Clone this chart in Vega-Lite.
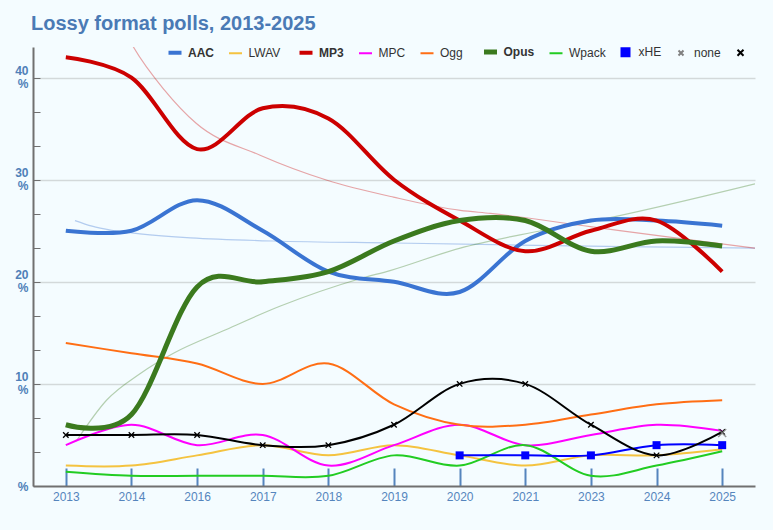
{
  "$schema": "https://vega.github.io/schema/vega-lite/v6.json",
  "width": 722,
  "height": 439,
  "autosize": "none",
  "padding": {"left": 33, "top": 47, "right": 18, "bottom": 44},
  "background": "#f4fcff",
  "title": {
    "text": "Lossy format polls, 2013-2025",
    "anchor": "start",
    "frame": "group",
    "dx": -2,
    "offset": -7,
    "baseline": "alphabetic",
    "fontSize": 20,
    "fontWeight": "bold",
    "color": "#4a7ab5",
    "font": "Liberation Sans"
  },
  "datasets": {
    "polls": [
      {"year": "2013", "series": "AAC", "value": 25},
      {"year": "2014", "series": "AAC", "value": 25},
      {"year": "2016", "series": "AAC", "value": 28},
      {"year": "2017", "series": "AAC", "value": 25},
      {"year": "2018", "series": "AAC", "value": 21},
      {"year": "2019", "series": "AAC", "value": 20},
      {"year": "2020", "series": "AAC", "value": 19},
      {"year": "2021", "series": "AAC", "value": 24},
      {"year": "2023", "series": "AAC", "value": 26},
      {"year": "2024", "series": "AAC", "value": 26},
      {"year": "2025", "series": "AAC", "value": 25.5},
      {"year": "2013", "series": "LWAV", "value": 2},
      {"year": "2014", "series": "LWAV", "value": 2},
      {"year": "2016", "series": "LWAV", "value": 3},
      {"year": "2017", "series": "LWAV", "value": 4},
      {"year": "2018", "series": "LWAV", "value": 3},
      {"year": "2019", "series": "LWAV", "value": 4},
      {"year": "2020", "series": "LWAV", "value": 3},
      {"year": "2021", "series": "LWAV", "value": 2},
      {"year": "2023", "series": "LWAV", "value": 3},
      {"year": "2024", "series": "LWAV", "value": 3},
      {"year": "2025", "series": "LWAV", "value": 3.6},
      {"year": "2013", "series": "MP3", "value": 42},
      {"year": "2014", "series": "MP3", "value": 40},
      {"year": "2016", "series": "MP3", "value": 33},
      {"year": "2017", "series": "MP3", "value": 37},
      {"year": "2018", "series": "MP3", "value": 36},
      {"year": "2019", "series": "MP3", "value": 30},
      {"year": "2020", "series": "MP3", "value": 26},
      {"year": "2021", "series": "MP3", "value": 23},
      {"year": "2023", "series": "MP3", "value": 25},
      {"year": "2024", "series": "MP3", "value": 26},
      {"year": "2025", "series": "MP3", "value": 21},
      {"year": "2013", "series": "MPC", "value": 4},
      {"year": "2014", "series": "MPC", "value": 6},
      {"year": "2016", "series": "MPC", "value": 4},
      {"year": "2017", "series": "MPC", "value": 5},
      {"year": "2018", "series": "MPC", "value": 2},
      {"year": "2019", "series": "MPC", "value": 4},
      {"year": "2020", "series": "MPC", "value": 6},
      {"year": "2021", "series": "MPC", "value": 4},
      {"year": "2023", "series": "MPC", "value": 5},
      {"year": "2024", "series": "MPC", "value": 6},
      {"year": "2025", "series": "MPC", "value": 5.4},
      {"year": "2013", "series": "Ogg", "value": 14},
      {"year": "2014", "series": "Ogg", "value": 13},
      {"year": "2016", "series": "Ogg", "value": 12},
      {"year": "2017", "series": "Ogg", "value": 10},
      {"year": "2018", "series": "Ogg", "value": 12},
      {"year": "2019", "series": "Ogg", "value": 8},
      {"year": "2020", "series": "Ogg", "value": 6},
      {"year": "2021", "series": "Ogg", "value": 6},
      {"year": "2023", "series": "Ogg", "value": 7},
      {"year": "2024", "series": "Ogg", "value": 8},
      {"year": "2025", "series": "Ogg", "value": 8.4},
      {"year": "2013", "series": "Opus", "value": 6},
      {"year": "2014", "series": "Opus", "value": 7},
      {"year": "2016", "series": "Opus", "value": 19.5},
      {"year": "2017", "series": "Opus", "value": 20},
      {"year": "2018", "series": "Opus", "value": 21},
      {"year": "2019", "series": "Opus", "value": 24},
      {"year": "2020", "series": "Opus", "value": 26},
      {"year": "2021", "series": "Opus", "value": 26},
      {"year": "2023", "series": "Opus", "value": 23},
      {"year": "2024", "series": "Opus", "value": 24},
      {"year": "2025", "series": "Opus", "value": 23.5},
      {"year": "2013", "series": "Wpack", "value": 1.4},
      {"year": "2014", "series": "Wpack", "value": 1},
      {"year": "2016", "series": "Wpack", "value": 1},
      {"year": "2017", "series": "Wpack", "value": 1},
      {"year": "2018", "series": "Wpack", "value": 1},
      {"year": "2019", "series": "Wpack", "value": 3},
      {"year": "2020", "series": "Wpack", "value": 2},
      {"year": "2021", "series": "Wpack", "value": 4},
      {"year": "2023", "series": "Wpack", "value": 1},
      {"year": "2024", "series": "Wpack", "value": 2},
      {"year": "2025", "series": "Wpack", "value": 3.4},
      {"year": "2020", "series": "xHE", "value": 3},
      {"year": "2021", "series": "xHE", "value": 3},
      {"year": "2023", "series": "xHE", "value": 3},
      {"year": "2024", "series": "xHE", "value": 4},
      {"year": "2025", "series": "xHE", "value": 4},
      {"year": "2025", "series": "none", "value": 5.2},
      {"year": "2013", "series": "(all)", "value": 5},
      {"year": "2014", "series": "(all)", "value": 5},
      {"year": "2016", "series": "(all)", "value": 5},
      {"year": "2017", "series": "(all)", "value": 4},
      {"year": "2018", "series": "(all)", "value": 4},
      {"year": "2019", "series": "(all)", "value": 6},
      {"year": "2020", "series": "(all)", "value": 10},
      {"year": "2021", "series": "(all)", "value": 10},
      {"year": "2023", "series": "(all)", "value": 6},
      {"year": "2024", "series": "(all)", "value": 3},
      {"year": "2025", "series": "(all)", "value": 5.3}
    ],
    "trend": [
      {"series": "AAC", "pos": 0.14, "value": 26.0},
      {"series": "AAC", "pos": 0.4, "value": 25.45},
      {"series": "AAC", "pos": 0.7, "value": 25.05},
      {"series": "AAC", "pos": 1.13, "value": 24.7},
      {"series": "AAC", "pos": 1.9, "value": 24.3},
      {"series": "AAC", "pos": 3.16, "value": 24.0},
      {"series": "AAC", "pos": 5.0, "value": 23.8},
      {"series": "AAC", "pos": 6.9, "value": 23.6},
      {"series": "AAC", "pos": 8.5, "value": 23.45},
      {"series": "AAC", "pos": 10.5, "value": 23.3},
      {"series": "MP3", "pos": 0.75, "value": 46.5},
      {"series": "MP3", "pos": 1.03, "value": 43.0},
      {"series": "MP3", "pos": 1.5, "value": 38.8},
      {"series": "MP3", "pos": 1.99, "value": 35.5},
      {"series": "MP3", "pos": 2.96, "value": 32.4},
      {"series": "MP3", "pos": 3.98, "value": 29.95},
      {"series": "MP3", "pos": 4.99, "value": 28.3},
      {"series": "MP3", "pos": 6.01, "value": 27.0},
      {"series": "MP3", "pos": 6.47, "value": 26.7},
      {"series": "MP3", "pos": 7.99, "value": 25.4},
      {"series": "MP3", "pos": 9.52, "value": 24.1},
      {"series": "MP3", "pos": 10.5, "value": 23.3},
      {"series": "Opus", "pos": 0.16, "value": 4.4},
      {"series": "Opus", "pos": 0.62, "value": 8.4},
      {"series": "Opus", "pos": 1.13, "value": 11.0},
      {"series": "Opus", "pos": 1.64, "value": 13.0},
      {"series": "Opus", "pos": 2.4, "value": 15.2},
      {"series": "Opus", "pos": 3.26, "value": 17.6},
      {"series": "Opus", "pos": 4.48, "value": 20.3},
      {"series": "Opus", "pos": 4.94, "value": 21.1},
      {"series": "Opus", "pos": 6.01, "value": 23.3},
      {"series": "Opus", "pos": 6.92, "value": 24.6},
      {"series": "Opus", "pos": 8.0, "value": 25.9},
      {"series": "Opus", "pos": 10.5, "value": 29.6}
    ]
  },
  "layer": [
    {
      "data": {"name": "trend"},
      "mark": {"type": "line", "interpolate": "monotone", "strokeWidth": 1.2, "opacity": 0.35, "clip": true},
      "encoding": {
        "x": {"field": "pos", "type": "quantitative", "scale": {"domain": [-0.5, 10.5]}, "axis": null},
        "y": {"field": "value", "type": "quantitative"},
        "color": {"field": "series", "type": "nominal"}
      }
    },
    {
      "layer": [
        {
          "data": {"name": "polls"},
          "transform": [{"filter": "datum.series != 'none'"}],
          "mark": {"type": "line", "interpolate": "cardinal"},
          "encoding": {
            "x": {
              "field": "year",
              "type": "ordinal",
              "scale": {"type": "point", "padding": 0.5},
              "axis": {
                "labelAngle": 0,
                "domainColor": "#707070",
                "domainWidth": 2,
                "tickColor": "#5585bd",
                "tickWidth": 2,
                "tickSize": -18,
                "labelColor": "#5585bd",
                "labelFontSize": 12,
                "labelFont": "Liberation Sans",
                "labelPadding": 23,
                "grid": false
              }
            },
            "y": {
              "field": "value",
              "type": "quantitative",
              "scale": {"domain": [0, 43], "nice": false},
              "axis": {
                "values": [0, 3.3333, 6.6667, 10, 13.3333, 16.6667, 20, 23.3333, 26.6667, 30, 33.3333, 36.6667, 40],
                "tickCount": 30,
                "grid": true,
                "gridColor": "#d3d9da",
                "gridWidth": 1.5,
                "gridOpacity": {"condition": {"test": "datum.value % 10 == 0 && datum.value > 0", "value": 1}, "value": 0},
                "domainColor": "#707070",
                "domainWidth": 2,
                "tickColor": "#707070",
                "tickSize": -7,
                "tickWidth": 1,
                "labelExpr": "datum.value % 10 != 0 ? '' : datum.value == 0 ? '%' : [format(datum.value, 'd'), '%']",
                "labelColor": "#4f80b8",
                "labelFontWeight": "bold",
                "labelFontSize": 12,
                "labelFont": "Liberation Sans",
                "labelPadding": 12,
                "labelLineHeight": 12.5,
                "labelOffset": {"condition": {"test": "datum.value > 0", "value": -7}, "value": 0},
                "labelOverlap": false,
                "labelBound": false,
                "labelFlush": false
              }
            },
            "color": {
              "field": "series",
              "type": "nominal",
              "scale": {
                "domain": ["AAC", "LWAV", "MP3", "MPC", "Ogg", "Opus", "Wpack", "xHE", "none", "(all)"],
                "range": ["#3a74d2", "#f4c340", "#cc0000", "#ff00ff", "#ff6e14", "#3b7a1e", "#22cc22", "#0000ff", "#808080", "#000000"]
              },
              "legend": {
                "orient": "none",
                "legendX": 133,
                "legendY": -4,
                "direction": "horizontal",
                "columns": 10,
                "title": null,
                "symbolType": "stroke",
                "symbolSize": 169,
                "symbolStrokeWidth": 4,
                "labelFontSize": 12,
                "labelFont": "Liberation Sans",
                "labelColor": "#333333",
                "labelOffset": 4,
                "columnPadding": 10.5,
                "labelExpr": "datum.label == '(all)' ? '' : datum.label",
                "encode": {
                  "labels": {
                    "update": {
                      "fontWeight": {"signal": "indexof(['AAC', 'MP3', 'Opus'], datum.value) >= 0 ? 'bold' : 'normal'"}
                    }
                  },
                  "symbols": {
                    "update": {
                      "shape": {"signal": "datum.value == 'xHE' ? 'square' : (datum.value == 'none' || datum.value == '(all)') ? 'M-1,-1L1,1M1,-1L-1,1' : 'stroke'"},
                      "size": {"signal": "datum.value == 'xHE' ? 64 : datum.value == 'none' ? 25 : datum.value == '(all)' ? 36 : 169"},
                      "fill": {"signal": "datum.value == 'xHE' ? '#0000ff' : 'transparent'"},
                      "strokeWidth": {"signal": "datum.value == 'xHE' ? 0 : datum.value == '(all)' ? 2 : datum.value == 'none' ? 1.2 : 4"}
                    }
                  }
                }
              }
            },
            "strokeWidth": {
              "field": "series",
              "type": "nominal",
              "scale": {
                "type": "ordinal",
                "domain": ["AAC", "LWAV", "MP3", "MPC", "Ogg", "Opus", "Wpack", "xHE", "none", "(all)"],
                "range": [4, 2, 4, 2, 2, 5, 2, 2, 2, 2]
              },
              "legend": null
            }
          }
        },
        {
          "data": {"name": "polls"},
          "transform": [{"filter": "datum.series == 'xHE'"}],
          "mark": {"type": "point", "shape": "square", "filled": true, "size": 64, "opacity": 1},
          "encoding": {
            "x": {"field": "year", "type": "ordinal"},
            "y": {"field": "value", "type": "quantitative"},
            "color": {"field": "series", "type": "nominal"}
          }
        },
        {
          "data": {"name": "polls"},
          "transform": [{"filter": "datum.series == '(all)'"}],
          "mark": {"type": "point", "shape": "M-1,-1L1,1M1,-1L-1,1", "filled": false, "size": 30, "strokeWidth": 1.3, "opacity": 1},
          "encoding": {
            "x": {"field": "year", "type": "ordinal"},
            "y": {"field": "value", "type": "quantitative"},
            "color": {"field": "series", "type": "nominal"}
          }
        },
        {
          "data": {"name": "polls"},
          "transform": [{"filter": "datum.series == 'none'"}],
          "mark": {"type": "point", "shape": "M-1,-1L1,1M1,-1L-1,1", "filled": false, "size": 64, "strokeWidth": 1.5, "opacity": 0.8},
          "encoding": {
            "x": {"field": "year", "type": "ordinal"},
            "y": {"field": "value", "type": "quantitative"},
            "color": {"field": "series", "type": "nominal"}
          }
        }
      ]
    }
  ],
  "resolve": {"scale": {"x": "independent"}},
  "config": {
    "view": {"stroke": null},
    "axis": {"title": null},
    "font": "Liberation Sans"
  }
}
